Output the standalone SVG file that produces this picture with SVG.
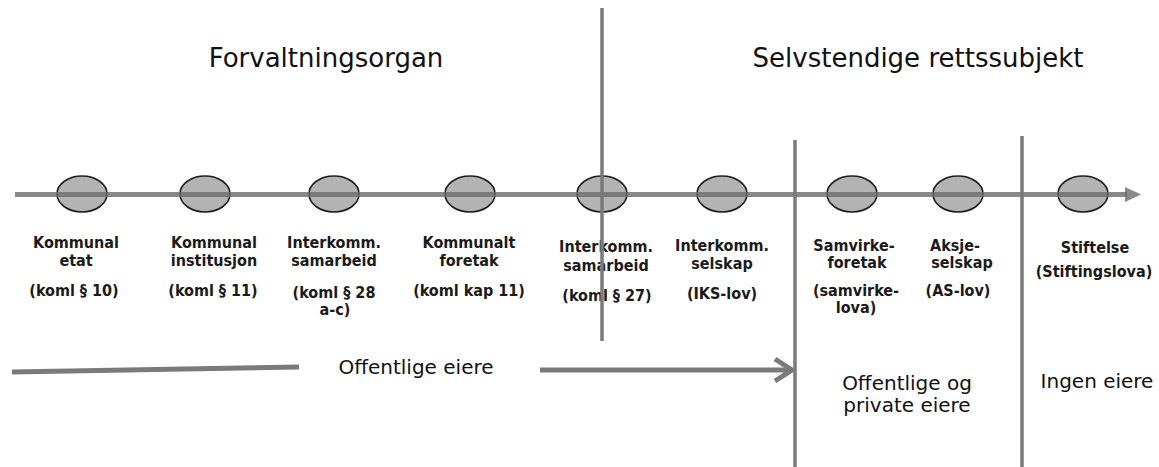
<svg xmlns="http://www.w3.org/2000/svg" width="1159" height="467" viewBox="0 0 1159 467">
<defs>
<style>
.title{font-family:"DejaVu Sans",Verdana,sans-serif;font-size:26px;fill:#111;text-anchor:middle}
.lbl{font-family:"DejaVu Sans Condensed","DejaVu Sans",Verdana,sans-serif;font-stretch:condensed;font-size:16px;font-weight:bold;fill:#1a1a1a;text-anchor:middle}
.own{font-family:"DejaVu Sans",Verdana,sans-serif;font-size:20px;fill:#111;text-anchor:middle}
.node{fill:#b3b3b3;stroke:#1e1e1e;stroke-width:1.6}
.ln{stroke:#6b6b6b;stroke-opacity:0.8;stroke-width:5;fill:none}
.div{stroke:#7a7a7a;stroke-width:3.5;fill:none}
</style>
</defs>
<rect width="1159" height="467" fill="#ffffff"/>
<text class="title" x="326" y="67">Forvaltningsorgan</text>
<text class="title" x="918" y="67">Selvstendige rettssubjekt</text>

<g id="n1"><ellipse class="node" cx="82" cy="194" rx="25" ry="18"/>
<text class="lbl" x="76" y="248">Kommunal</text><text class="lbl" x="76" y="266">etat</text><text class="lbl" x="74" y="296">(koml § 10)</text></g>
<g id="n2"><ellipse class="node" cx="205" cy="194" rx="25" ry="18"/>
<text class="lbl" x="214" y="248">Kommunal</text><text class="lbl" x="214" y="266">institusjon</text><text class="lbl" x="213" y="296">(koml § 11)</text></g>
<g id="n3"><ellipse class="node" cx="334" cy="194" rx="25" ry="18"/>
<text class="lbl" x="334" y="248">Interkomm.</text><text class="lbl" x="334" y="266">samarbeid</text><text class="lbl" x="334" y="298">(koml § 28</text><text class="lbl" x="335" y="315">a-c)</text></g>
<g id="n4"><ellipse class="node" cx="470" cy="194" rx="25" ry="18"/>
<text class="lbl" x="469" y="248">Kommunalt</text><text class="lbl" x="469" y="266">foretak</text><text class="lbl" x="469" y="296">(koml kap 11)</text></g>
<g id="n5"><ellipse class="node" cx="602" cy="194" rx="25" ry="18"/>
<text class="lbl" x="606" y="252">Interkomm.</text><text class="lbl" x="606" y="271">samarbeid</text><text class="lbl" x="607" y="301">(koml § 27)</text></g>
<g id="n6"><ellipse class="node" cx="722" cy="194" rx="25" ry="18"/>
<text class="lbl" x="722" y="251">Interkomm.</text><text class="lbl" x="722" y="269">selskap</text><text class="lbl" x="722" y="299">(IKS-lov)</text></g>
<g id="n7"><ellipse class="node" cx="852" cy="194" rx="25" ry="18"/>
<text class="lbl" x="854" y="251">Samvirke-</text><text class="lbl" x="857" y="268">foretak</text><text class="lbl" x="856" y="296">(samvirke-</text><text class="lbl" x="856" y="313">lova)</text></g>
<g id="n8"><ellipse class="node" cx="958" cy="194" rx="25" ry="18"/>
<text class="lbl" x="955" y="251">Aksje-</text><text class="lbl" x="962" y="268">selskap</text><text class="lbl" x="958" y="296">(AS-lov)</text></g>
<g id="n9"><ellipse class="node" cx="1083" cy="194" rx="25" ry="18"/>
<text class="lbl" x="1095" y="253">Stiftelse</text><text class="lbl" x="1094" y="277">(Stiftingslova)</text></g>

<text class="own" x="416" y="374">Offentlige eiere</text>
<text class="own" x="907" y="390">Offentlige og</text>
<text class="own" x="907" y="412">private eiere</text>
<text class="own" x="1097" y="388">Ingen eiere</text>

<g id="connectors">
<line class="ln" x1="15" y1="194.5" x2="1127" y2="194.5"/>
<polygon points="1125,187 1141,194.5 1125,202" fill="#6b6b6b" fill-opacity="0.8"/>
<line class="div" x1="602" y1="8" x2="602" y2="341"/>
<line class="div" x1="795" y1="140" x2="795" y2="467"/>
<line class="div" x1="1022" y1="136" x2="1022" y2="467"/>
<line x1="12" y1="372" x2="299" y2="367" stroke="#7a7a7a" stroke-width="5"/>
<line x1="540" y1="370" x2="791" y2="370" stroke="#7a7a7a" stroke-width="5"/>
<polyline points="775,359 792,370 775,381" fill="none" stroke="#7a7a7a" stroke-width="5" stroke-linejoin="miter"/>
</g>
</svg>
